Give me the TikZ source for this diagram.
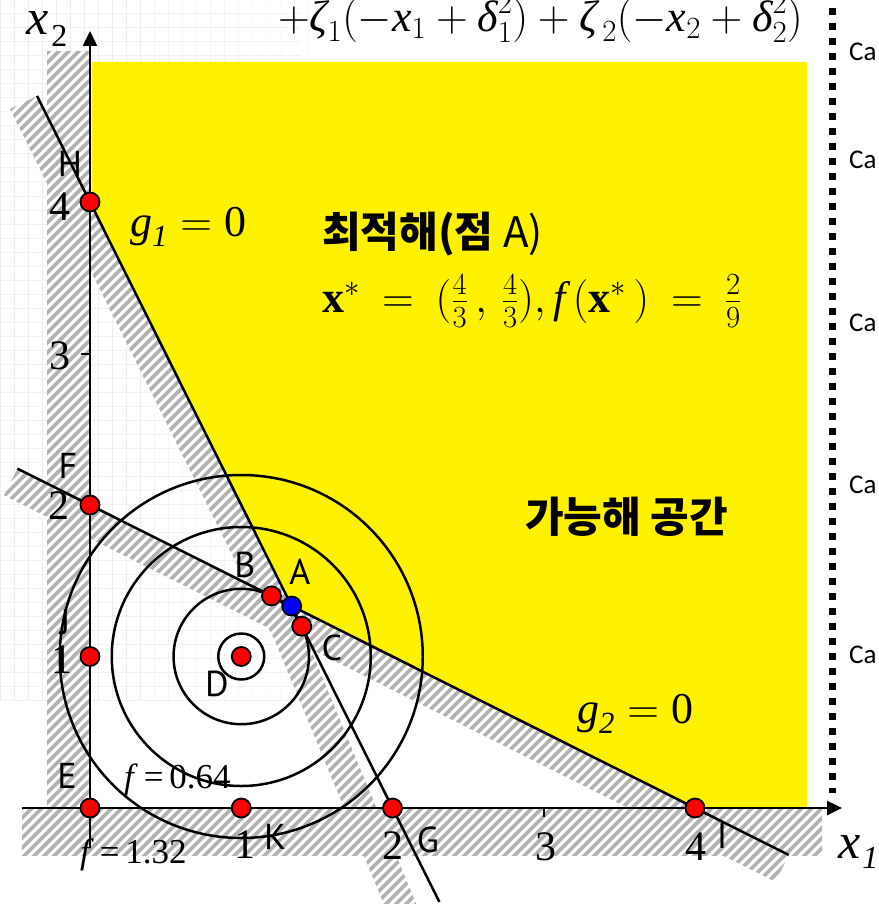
\RequirePackage{fix-cm}
\documentclass[tikz,border=0pt]{standalone}
\usepackage{amsmath}
\usepackage{fontspec}
\setmainfont{Liberation Serif}
\newfontfamily\lblfont{PT Sans}
\newfontfamily\cafont{Carlito}
\newfontfamily\cjk{Noto Sans CJK KR}
\usetikzlibrary{arrows.meta}
\newcommand\vi[1]{\text{\itshape #1}}
\newcommand\stripes{\foreach \i in {-920,-910,...,880} {\draw[stripe] (\i,910) -- ++(910,-910);}}
\tikzset{
  pt/.style={circle, draw=black, line width=1.8pt, fill=red, minimum size=19pt, inner sep=0pt},
  lbl/.style={font=\lblfont\fontsize{36}{36}\selectfont, inner sep=0pt},
  num/.style={font=\fontsize{42}{42}\selectfont, inner sep=0pt},
  stripe/.style={black!30, line width=3.6pt},
  curve/.style={line width=2.5pt},
  capt/.style={font=\cafont\fontsize{27}{27}\selectfont, anchor=west, inner sep=0pt},
  eq/.style={inner sep=0pt, anchor=base west},
  axis/.style={line width=2.5pt, -{Triangle[length=15pt,width=14pt]}},
}
\begin{document}
\begin{tikzpicture}[x=1pt,y=-1pt]
\useasboundingbox (0,0) rectangle (878,904);
% faint background grid
\foreach \i in {0,14,...,140} {\draw[black!7, line width=1pt] (\i,0) -- (\i,700);}
\foreach \i in {154,168,...,238} {\draw[black!4, line width=1pt] (\i,0) -- (\i,700);}
\foreach \i in {252,266,...,308} {\draw[black!2, line width=1pt] (\i,0) -- (\i,700);}
\foreach \j in {0,14,...,700} {\draw[black!5, line width=1pt] (0,\j) -- (300,\j);}

% math points
\begin{scope}[shift={(90,808)}, x=151.25pt, y=151.5pt]
  \coordinate (pE) at (0,0);
  \coordinate (pH) at (0,4);
  \coordinate (pF) at (0,2);
  \coordinate (pJ) at (0,1);
  \coordinate (pK) at (1,0);
  \coordinate (pG) at (2,0);
  \coordinate (pI) at (4,0);
  \coordinate (pD) at (1,1);
  \coordinate (pA) at (4/3,4/3);
  \coordinate (pB) at (1.2,1.4);
  \coordinate (pC) at (1.4,1.2);
  \coordinate (g1a) at (-0.35,4.7);
  \coordinate (g1b) at (2.31,-0.62);
  \coordinate (g2a) at (-0.48,2.24);
  \coordinate (g2b) at (4.62,-0.31);
\end{scope}

% feasible region
\fill[yellow] (92,62) -- (807,62) -- (807,808) -- (pI) -- (pA) -- (pH) -- (92,202) -- cycle;

% hatched bands
\fill[white] (47,52) rectangle (90,855);
\fill[white] (22,808) rectangle (822,855);
\fill[white] (37,96) -- (302,628) -- (427,930) -- (400,943) -- (275,641) -- (10,109) -- cycle;
\fill[white] (17.4,468.6) -- (788.8,855) -- (775.4,881.8) -- (4,495.4) -- cycle;
\begin{scope}
  \clip (47,52) rectangle (90,855);
  \stripes
\end{scope}
\begin{scope}
  \clip (22,808) rectangle (822,855);
  \stripes
\end{scope}
\begin{scope}
  \clip (37,96) -- (302,628) -- (427,930) -- (400,943) -- (275,641) -- (10,109) -- cycle;
  \stripes
\end{scope}
\begin{scope}
  \clip (17.4,468.6) -- (788.8,855) -- (775.4,881.8) -- (4,495.4) -- cycle;
  \stripes
\end{scope}

% level circles
\draw[curve] (pD) circle[radius=23];
\draw[curve] (pD) circle[radius=67.7];
\draw[curve] (pD) circle[radius=129.5];
\draw[curve] (pD) circle[radius=181.5];

% constraint lines
\draw[curve] (g1a) -- (g1b);
\draw[curve] (g2a) -- (g2b);

% axes
\coordinate (xs) at (22,808);
\coordinate (xe) at (842,808);
\coordinate (ys) at (90,848);
\coordinate (ye) at (90,31);
\draw[axis] (xs) -- (xe);
\draw[axis] (ys) -- (ye);

% ticks
\foreach \v in {202,354,505,656} {\draw[line width=2pt] (81,\v) -- (90,\v);}
\foreach \u in {241,392.5,544,695} {\draw[line width=2pt] (\u,808) -- (\u,817);}

% dotted separator
\coordinate (dt) at (832,8);
\coordinate (db) at (832,793);
\draw[line width=7pt, dash pattern=on 7pt off 8pt] (dt) -- (db);

% points
\node[pt] (H) at (pH) {};
\node[pt] (F) at (pF) {};
\node[pt] (J) at (pJ) {};
\node[pt] (E) at (pE) {};
\node[pt] (K) at (pK) {};
\node[pt] (G) at (pG) {};
\node[pt] (I) at (pI) {};
\node[pt] (D) at (pD) {};
\node[pt] (B) at (pB) {};
\node[pt] (C) at (pC) {};
\node[pt, fill=blue] (A) at (pA) {};

% point labels
\node[lbl] (tH) at (70,164) {H};
\node[lbl] (tF) at (68,466) {F};
\node[lbl] (tJ) at (65,622) {J};
\node[lbl] (tE) at (67,776) {E};
\node[lbl] (tK) at (275,837) {K};
\node[lbl] (tG) at (428,840) {G};
\node[lbl] (tI) at (722,836) {I};
\node[lbl] (tB) at (245,565) {B};
\node[lbl] (tA) at (300,572) {A};
\node[lbl] (tC) at (332,648) {C};
\node[lbl] (tD) at (217,684) {D};

% tick labels
\node[num] (n4y) at (60,207) {4};
\node[num] (n3y) at (60,356) {3};
\node[num] (n2y) at (59,506) {2};
\node[num] (n1y) at (62,660) {1};
\node[num] (n1x) at (245,845) {1};
\node[num] (n2x) at (393,846) {2};
\node[num] (n3x) at (546,847) {3};
\node[num] (n4x) at (696,847) {4};

% axis names
\node[eq] (ax2) at (26,35) {\fontsize{50}{50}\selectfont\itshape x\hspace{3pt}\raisebox{-12pt}{\fontsize{32}{32}\selectfont\upshape 2}};
\node[eq] (ax1) at (838,858) {\fontsize{50}{50}\selectfont\itshape x\hspace{2pt}\raisebox{-10pt}{\fontsize{32}{32}\selectfont 1}};

% constraint labels
\node[eq, font=\fontsize{44}{44}\selectfont] (lg1) at (130,236) {$\vi{g}_{\vi{1}}=\text{0}$};
\node[eq, font=\fontsize{44}{44}\selectfont] (lg2) at (577,723) {$\vi{g}_{\vi{2}}=\text{0}$};

% level labels
\node[eq, font=\fontsize{35}{35}\selectfont] (lf1) at (124,788) {\textit{f}\,=\,0.64};
\node[eq, font=\fontsize{35}{35}\selectfont] (lf2) at (80,863) {\textit{f}\,=\,1.32};

% optimum text
\node[eq, font=\cjk\fontsize{42}{42}\selectfont] (opt) at (322,247) {\bfseries 최적해(점 \mdseries A)};
\node[eq, font=\fontsize{44}{44}\selectfont] (xstar) at (322,312) {$\mathbf{x}^{*}\:=\:(\tfrac{4}{3}\,,\,\tfrac{4}{3}),\vi{f}\,(\mathbf{x}^{*}\,)\:=\:\tfrac{2}{9}$};
\node[eq, font=\cjk\fontsize{42}{42}\selectfont] (feas) at (525,532) {\bfseries 가능해 공간};

% top formula (cut off)
\node[eq, font=\fontsize{44}{44}\selectfont] (topf) at (278,32) {$+\vi{ζ}_{1}(-\vi{x}_{1}+\vi{δ}_{1}^{2})+\vi{ζ}_{\,2}(-\vi{x}_{2}+\vi{δ}_{2}^{2})$};

% side captions (cut off)
\node[capt] (c1) at (849,52) {Ca};
\node[capt] (c2) at (849,160) {Ca};
\node[capt] (c3) at (849,323) {Ca};
\node[capt] (c4) at (849,485) {Ca};
\node[capt] (c5) at (849,655) {Ca};
\end{tikzpicture}
\end{document}
